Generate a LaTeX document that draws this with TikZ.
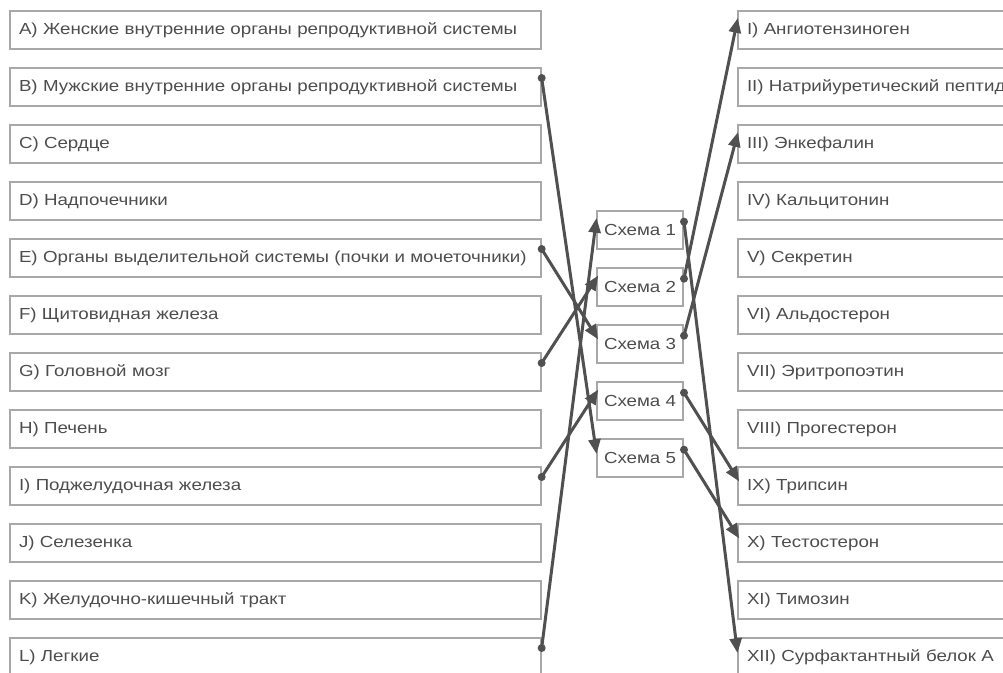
\documentclass[tikz,border=0pt]{standalone}
\usepackage{fontspec}
\setmainfont{Liberation Sans}[FakeStretch=1.17]
\usetikzlibrary{arrows.meta}
\definecolor{boxgray}{HTML}{A8A8A8}
\definecolor{textgray}{HTML}{4D4D4D}
\definecolor{linkgray}{HTML}{505050}
\begin{document}
\begin{tikzpicture}[x=0.75pt, y=-0.75pt, >={Triangle[length=11pt, width=9pt]},
    every node/.style={font=\fontsize{12pt}{14pt}\selectfont, text=textgray},
    organ/.style={draw=boxgray, line width=1.5pt, anchor=west, text width=384.5pt,
      align=left, inner xsep=6.75pt, minimum height=28.5pt},
    scheme/.style={draw=boxgray, line width=1.5pt, anchor=west, minimum width=64.5pt,
      inner xsep=0pt, minimum height=28.5pt},
    link/.style={draw=linkgray, line width=2.25pt, ->, shorten >=-3pt}]

    % --- 1. 枠と x座標の基準 ---
    \useasboundingbox (0,0) rectangle (1003,672);
    \clip (0,0) rectangle (1003,672);
    \def\xLeft{9}
    \def\xMid{596}
    \def\xRight{737}

    % --- 2. 左列（器官） ---
    \node[organ] (lA) at (\xLeft, 30)  {A) Женские внутренние органы репродуктивной системы};
    \node[organ] (lB) at (\xLeft, 87)  {B) Мужские внутренние органы репродуктивной системы};
    \node[organ] (lC) at (\xLeft, 144) {C) Сердце};
    \node[organ] (lD) at (\xLeft, 201) {D) Надпочечники};
    \node[organ] (lE) at (\xLeft, 258) {E) Органы выделительной системы (почки и мочеточники)};
    \node[organ] (lF) at (\xLeft, 315) {F) Щитовидная железа};
    \node[organ] (lG) at (\xLeft, 372) {G) Головной мозг};
    \node[organ] (lH) at (\xLeft, 429) {H) Печень};
    \node[organ] (lI) at (\xLeft, 486) {I) Поджелудочная железа};
    \node[organ] (lJ) at (\xLeft, 543) {J) Селезенка};
    \node[organ] (lK) at (\xLeft, 600) {K) Желудочно-кишечный тракт};
    \node[organ] (lL) at (\xLeft, 657) {L) Легкие};

    % --- 3. 中央（схемы） ---
    \node[scheme] (s1) at (\xMid, 230) {Схема 1};
    \node[scheme] (s2) at (\xMid, 287) {Схема 2};
    \node[scheme] (s3) at (\xMid, 344) {Схема 3};
    \node[scheme] (s4) at (\xMid, 401) {Схема 4};
    \node[scheme] (s5) at (\xMid, 458) {Схема 5};

    % --- 4. 右列（ホルモン） ---
    \node[organ] (r1)  at (\xRight, 30)  {I) Ангиотензиноген};
    \node[organ] (r2)  at (\xRight, 87)  {II) Натрийуретический пептид};
    \node[organ] (r3)  at (\xRight, 144) {III) Энкефалин};
    \node[organ] (r4)  at (\xRight, 201) {IV) Кальцитонин};
    \node[organ] (r5)  at (\xRight, 258) {V) Секретин};
    \node[organ] (r6)  at (\xRight, 315) {VI) Альдостерон};
    \node[organ] (r7)  at (\xRight, 372) {VII) Эритропоэтин};
    \node[organ] (r8)  at (\xRight, 429) {VIII) Прогестерон};
    \node[organ] (r9)  at (\xRight, 486) {IX) Трипсин};
    \node[organ] (r10) at (\xRight, 543) {X) Тестостерон};
    \node[organ] (r11) at (\xRight, 600) {XI) Тимозин};
    \node[organ] (r12) at (\xRight, 657) {XII) Сурфактантный белок А};

    % --- 5. 端点の座標 ---
    % d: 始点（●）, t: 終点（矢印）
    \coordinate (dB) at ([yshift=6.75pt]lB.east);
    \coordinate (dE) at ([yshift=6.75pt]lE.east);
    \coordinate (dG) at ([yshift=6.75pt]lG.east);
    \coordinate (dI) at ([yshift=6.75pt]lI.east);
    \coordinate (dL) at ([yshift=6.75pt]lL.east);
    \coordinate (tS1) at ([yshift=6pt]s1.west);
    \coordinate (tS2) at ([yshift=6pt]s2.west);
    \coordinate (tS3) at ([yshift=6pt]s3.west);
    \coordinate (tS4) at ([yshift=6pt]s4.west);
    \coordinate (tS5) at ([yshift=6pt]s5.west);
    \coordinate (dS1) at ([yshift=6.25pt]s1.east);
    \coordinate (dS2) at ([yshift=6.25pt]s2.east);
    \coordinate (dS3) at ([yshift=6.25pt]s3.east);
    \coordinate (dS4) at ([yshift=6.25pt]s4.east);
    \coordinate (dS5) at ([yshift=6.25pt]s5.east);
    \coordinate (t1)  at ([yshift=6pt]r1.west);
    \coordinate (t3)  at ([yshift=6pt]r3.west);
    \coordinate (t9)  at ([yshift=6pt]r9.west);
    \coordinate (t10) at ([yshift=6pt]r10.west);
    \coordinate (t12) at ([yshift=6pt]r12.west);

    % --- 6. 矢印 ---
    % 器官からсхемаへ
    \draw[link] (dB) -- (tS5);
    \draw[link] (dE) -- (tS3);
    \draw[link] (dG) -- (tS2);
    \draw[link] (dI) -- (tS4);
    \draw[link] (dL) -- (tS1);
    % схемаからホルモンへ
    \draw[link] (dS1) -- (t12);
    \draw[link] (dS2) -- (t1);
    \draw[link] (dS3) -- (t3);
    \draw[link] (dS4) -- (t9);
    \draw[link] (dS5) -- (t10);

    % --- 7. 始点の点（●） ---
    \foreach \p in {dB, dE, dG, dI, dL, dS1, dS2, dS3, dS4, dS5}
      \fill[linkgray] (\p) circle (3pt);

  \end{tikzpicture}
\end{document}
